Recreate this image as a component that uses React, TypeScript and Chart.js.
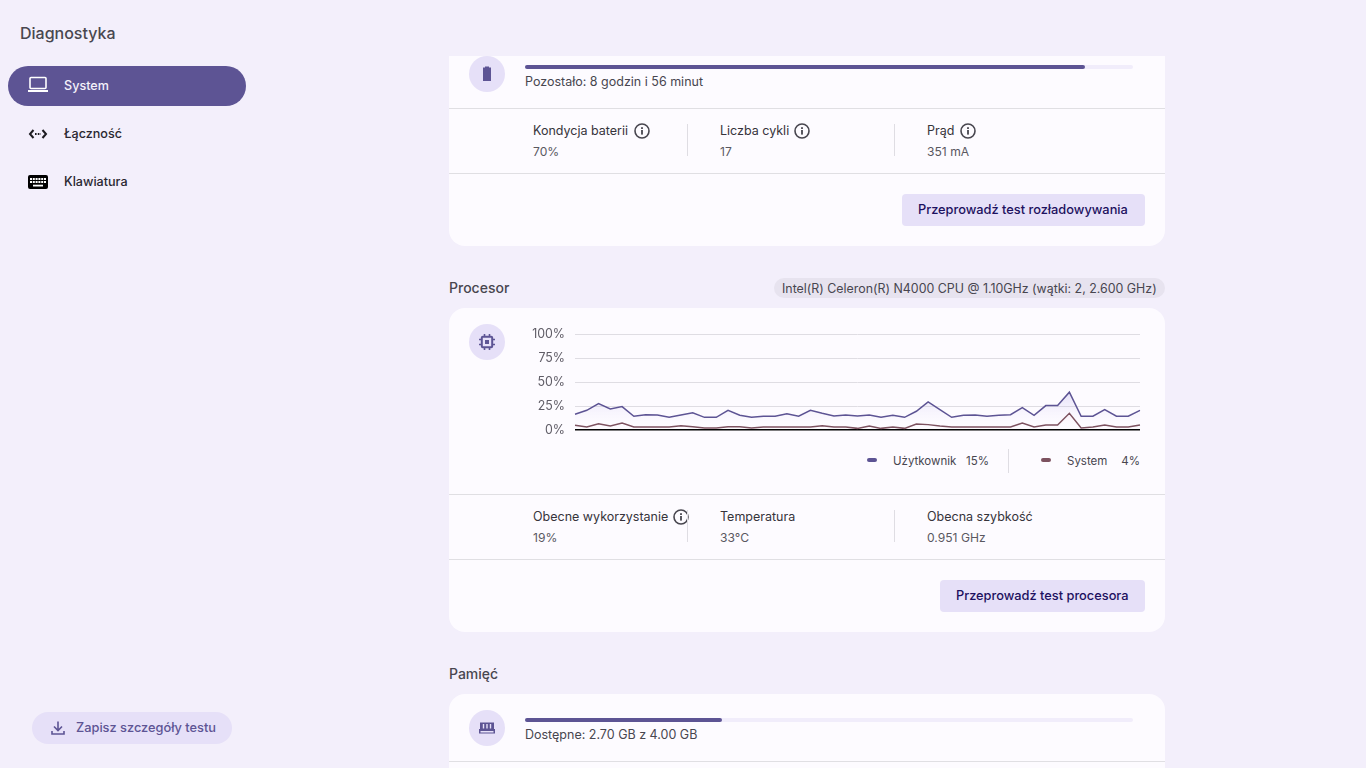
import { useEffect, useRef } from 'react';
import type { CSSProperties, ReactNode } from 'react';
import { Chart, registerables } from 'chart.js';

Chart.register(...registerables);

const UI_FONT = 'Inter, Roboto, sans-serif';

// CPU history, percent (left = oldest)
const userLoad = [
  16.4, 20.5, 27.5, 22, 24.4, 14.3, 16, 15.7, 13.2, 15.7, 18, 13.2, 13.2, 20.5, 15.3, 13.2, 14.3,
  14.3, 17, 14.3, 20.5, 17.4, 14.6, 15.7, 14.6, 15.7, 13.2, 15.3, 13.2, 19.5, 29.3, 21.3, 13.2,
  15.3, 15.7, 14.3, 15.3, 16, 23.3, 15.3, 25.4, 25.4, 39.4, 14.3, 14.3, 21.3, 14.3, 14.3, 20.5,
];
const systemLoad = [
  4.9, 3.1, 6.6, 4.2, 7.3, 3.1, 3.1, 3.1, 3.1, 4.5, 3.5, 2.1, 2.1, 3.5, 3.5, 2.1, 3.1, 3.1, 3.1,
  3.1, 3.1, 4.5, 3.1, 3.1, 1.7, 4.2, 1.7, 3.1, 1.7, 6.3, 5.6, 4.2, 3.1, 3.1, 3.1, 3.1, 3.1, 3.1,
  7.3, 3.1, 5.2, 5.2, 17.4, 2.1, 3.1, 5.2, 3.1, 3.1, 5.2,
];
const sampleLabels = userLoad.map((_, i) => String(i));
const yTicks = [0, 25, 50, 75, 100];
const legendLabels = ['Użytkownik', 'System'];
const legendValues = ['15%', '4%'];

const USER_COLOR = '#5d5494';
const SYSTEM_COLOR = '#7d5260';

const CpuChart = () => {
  const canvasRef = useRef<HTMLCanvasElement | null>(null);

  useEffect(() => {
    if (!canvasRef.current) return;

    const fade = (chart: Chart, top: string) => {
      const area = chart.chartArea;
      if (!area) return 'transparent';
      const g = chart.ctx.createLinearGradient(0, chart.scales.y.getPixelForValue(40), 0, area.bottom);
      g.addColorStop(0, top);
      g.addColorStop(1, 'rgba(255,255,255,0)');
      return g;
    };

    const chart = new Chart(canvasRef.current, {
      type: 'line',
      data: {
        labels: sampleLabels,
        datasets: [
          {
            label: legendLabels[1],
            data: systemLoad,
            borderColor: SYSTEM_COLOR,
            borderWidth: 1.5,
            pointRadius: 0,
            tension: 0,
            fill: 'origin',
            backgroundColor: (c: any) => fade(c.chart, 'rgba(255,160,180,0.4)'),
          },
          {
            label: legendLabels[0],
            data: userLoad,
            borderColor: USER_COLOR,
            borderWidth: 1.5,
            pointRadius: 0,
            tension: 0,
            fill: 'origin',
            backgroundColor: (c: any) => fade(c.chart, 'rgba(130,115,220,0.2)'),
          },
        ],
      },
      options: {
        animation: false,
        responsive: false,
        events: [],
        layout: { padding: { top: 14, bottom: 10, right: 10, left: 0 } },
        plugins: { legend: { display: false }, tooltip: { enabled: false } },
        scales: {
          x: { display: false, offset: false },
          y: {
            min: 0,
            max: 100,
            afterFit: (scale: any) => {
              scale.width = 55;
              // keep the plot area where the layout padding puts it
              scale.paddingTop = 0;
              scale.paddingBottom = 0;
            },
            afterBuildTicks: (scale: any) => {
              scale.ticks = yTicks.map(value => ({ value }));
            },
            border: { display: false },
            grid: {
              drawTicks: false,
              lineWidth: (c: any) => (c.tick?.value === 0 ? 1.5 : 1),
              color: (c: any) => (c.tick?.value === 0 ? '#000000' : '#dfdde3'),
            },
            ticks: {
              padding: 10,
              color: '#5f5c66',
              font: { family: UI_FONT, size: 12.4 },
              callback: (v: any) => `${v}%`,
            },
          },
        },
      },
    });

    return () => chart.destroy();
  }, []);

  return (
    <canvas
      ref={canvasRef}
      width={630}
      height={120}
      style={{ position: 'absolute', left: 520, top: 320, width: 630, height: 120 }}
    />
  );
};

// text placed by its left edge (or right edge) and vertical centre
const Txt = ({ x, y, size = 12.5, weight = 400, color = '#48464f', right, children }: {
  x?: number; y: number; size?: number; weight?: number; color?: string; right?: number; children: ReactNode;
}) => {
  const style: CSSProperties = {
    position: 'absolute',
    top: y - 12,
    height: 24,
    lineHeight: '24px',
    fontSize: size,
    fontWeight: weight,
    color,
    whiteSpace: 'nowrap',
  };
  if (x !== undefined) style.left = x;
  if (right !== undefined) style.right = 1366 - right;
  return <div style={style}>{children}</div>;
};

const Box = ({ x, y, w, h, bg, r = 0 }: { x: number; y: number; w: number; h: number; bg: string; r?: number | string }) => (
  <div style={{ position: 'absolute', left: x, top: y, width: w, height: h, background: bg, borderRadius: r }} />
);

const Info = ({ x, y }: { x: number; y: number }) => (
  <svg width={16} height={16} viewBox="0 0 16 16" style={{ position: 'absolute', left: x - 8, top: y - 8 }}>
    <circle cx={8} cy={8} r={7} fill="none" stroke="#48464f" strokeWidth={1.6} />
    <rect x={7.1} y={7} width={1.8} height={4.6} fill="#48464f" />
    <rect x={7.1} y={4.2} width={1.8} height={1.8} fill="#48464f" />
  </svg>
);

const IconBadge = ({ y, children }: { y: number; children: ReactNode }) => (
  <>
    <Box x={469} y={y - 18} w={36} h={36} bg="#e6e0f8" r="50%" />
    <svg width={20} height={20} viewBox="0 0 20 20" style={{ position: 'absolute', left: 477, top: y - 10 }}>
      {children}
    </svg>
  </>
);

const Button = ({ x, y, w, label }: { x: number; y: number; w: number; label: string }) => (
  <>
    <Box x={x} y={y} w={w} h={32} bg="#e6e0f8" r={4} />
    <Txt x={x + 16} y={y + 15.5} size={12.8} weight={500} color="#1d1160">{label}</Txt>
  </>
);

const Stat = ({ x, y, label, value }: { x: number; y: number; label: string; value: string }) => (
  <>
    <Txt x={x} y={y + 1} color="#36343b">{label}</Txt>
    <Txt x={x} y={y + 22} size={12.1} color="#5a5861">{value}</Txt>
  </>
);

export default function App() {
  return (
    <div style={{ position: 'fixed', left: 0, top: 0, width: 1366, height: 768, overflow: 'hidden', background: '#f3effb', fontFamily: UI_FONT }}>
      {/* sidebar */}
      <Txt x={20} y={33} size={16} weight={500} color="#49474f">Diagnostyka</Txt>
      <Box x={8} y={66} w={238} h={40} bg="#5d5494" r={20} />
      <svg width={22} height={18} viewBox="0 0 22 18" style={{ position: 'absolute', left: 27, top: 76 }}>
        <rect x={3} y={1.5} width={16} height={11} rx={1} fill="none" stroke="#fff" strokeWidth={1.6} />
        <rect x={1} y={14} width={20} height={2} fill="#fff" />
      </svg>
      <Txt x={64} y={86} size={12.6} weight={500} color="#f4f1fb">System</Txt>
      <svg width={20} height={12} viewBox="0 0 20 12" style={{ position: 'absolute', left: 28, top: 128 }}>
        <path d="M5.5 2 L2 6 L5.5 10 M14.5 2 L18 6 L14.5 10" fill="none" stroke="#1c1b20" strokeWidth={2} />
        <path d="M7 6 H13" stroke="#1c1b20" strokeWidth={1.8} strokeDasharray="1.6 1.2" />
      </svg>
      <Txt x={64} y={134} size={12.6} weight={500} color="#2a2830">Łączność</Txt>
      <svg width={22} height={16} viewBox="0 0 22 16" style={{ position: 'absolute', left: 27, top: 174 }}>
        <rect x={1} y={1} width={20} height={14} rx={2} fill="#000" />
        <path d="M3 5 H19 M3 8 H19" stroke="#fff" strokeWidth={2.1} strokeDasharray="2 0.8" />
        <path d="M6 11.6 H16" stroke="#fff" strokeWidth={1.8} />
      </svg>
      <Txt x={64} y={182} size={12.6} weight={500} color="#2a2830">Klawiatura</Txt>
      <Box x={32} y={712} w={200} h={32} bg="#e6e0f8" r={16} />
      <svg width={16} height={16} viewBox="0 0 16 16" style={{ position: 'absolute', left: 50, top: 720 }}>
        <path d="M8 1.5 V10 M4 6.5 L8 10.5 L12 6.5 M2 11 V14 H14 V11" fill="none" stroke="#5d5494" strokeWidth={1.6} />
      </svg>
      <Txt x={76} y={728} size={12.8} weight={500} color="#5d5494">Zapisz szczegóły testu</Txt>

      {/* battery card */}
      <div style={{ position: 'absolute', left: 449, top: 56, width: 716, height: 190, background: '#fdfbff', borderRadius: '0 0 16px 16px' }} />
      <IconBadge y={74}>
        <path d="M8 3.5 V2.5 H12 V3.5 H14 V17 H6 V3.5 Z" fill="#5d5494" />
      </IconBadge>
      <Box x={525} y={65} w={608} h={4} bg="#f1edfb" r={2} />
      <Box x={525} y={65} w={560} h={4} bg="#5d5494" r={2} />
      <Txt x={525} y={82}>Pozostało: 8 godzin i 56 minut</Txt>
      <Box x={449} y={108} w={716} h={1} bg="#e0dfe3" />
      <Stat x={533} y={130} label="Kondycja baterii" value="70%" />
      <Info x={642} y={131} />
      <Box x={687} y={124} w={1} h={32} bg="#dfdde3" />
      <Stat x={720} y={130} label="Liczba cykli" value="17" />
      <Info x={802} y={131} />
      <Box x={894} y={124} w={1} h={32} bg="#dfdde3" />
      <Stat x={927} y={130} label="Prąd" value="351 mA" />
      <Info x={968} y={131} />
      <Box x={449} y={173} w={716} h={1} bg="#e0dfe3" />
      <Button x={902} y={194} w={243} label="Przeprowadź test rozładowywania" />

      {/* processor card */}
      <Txt x={449} y={288} size={14} weight={500}>Procesor</Txt>
      <Box x={774} y={278} w={391} h={20} bg="#e7e3ef" r={10} />
      <Txt x={782} y={289} size={12.4}>Intel(R) Celeron(R) N4000 CPU @ 1.10GHz (wątki: 2, 2.600 GHz)</Txt>
      <Box x={449} y={308} w={716} h={324} bg="#fdfbff" r={16} />
      <IconBadge y={342}>
        <rect x={4.8} y={4.8} width={10.4} height={10.4} rx={1} fill="none" stroke="#5d5494" strokeWidth={2} />
        <rect x={8} y={8} width={4} height={4} fill="#5d5494" />
        <path d="M7.5 2 V5 M12.5 2 V5 M7.5 15 V18 M12.5 15 V18 M2 7.5 H5 M2 12.5 H5 M15 7.5 H18 M15 12.5 H18" stroke="#5d5494" strokeWidth={1.6} />
      </IconBadge>
      <CpuChart />
      <Box x={867} y={458} w={10} h={4} bg={USER_COLOR} r={2} />
      <Txt x={893} y={461} size={11.5}>{legendLabels[0]}</Txt>
      <Txt x={966} y={461} size={11.5}>{legendValues[0]}</Txt>
      <Box x={1008} y={449} w={1} h={24} bg="#dfdde3" />
      <Box x={1041} y={458} w={10} h={4} bg={SYSTEM_COLOR} r={2} />
      <Txt x={1067} y={461} size={11.5}>{legendLabels[1]}</Txt>
      <Txt right={1140} y={461} size={11.5}>{legendValues[1]}</Txt>
      <Box x={449} y={494} w={716} h={1} bg="#e0dfe3" />
      <Stat x={533} y={516} label="Obecne wykorzystanie" value="19%" />
      <Info x={681} y={517} />
      <Box x={687} y={510} w={1} h={32} bg="#dfdde3" />
      <Stat x={720} y={516} label="Temperatura" value="33°C" />
      <Box x={894} y={510} w={1} h={32} bg="#dfdde3" />
      <Stat x={927} y={516} label="Obecna szybkość" value="0.951 GHz" />
      <Box x={449} y={559} w={716} h={1} bg="#e0dfe3" />
      <Button x={940} y={580} w={205} label="Przeprowadź test procesora" />

      {/* memory card */}
      <Txt x={449} y={674} size={14} weight={500}>Pamięć</Txt>
      <div style={{ position: 'absolute', left: 449, top: 694, width: 716, height: 74, background: '#fdfbff', borderRadius: '16px 16px 0 0' }} />
      <IconBadge y={728}>
        <path d="M3 4.5 H17 V11 H18 V15.5 H2 V11 H3 Z" fill="#5d5494" />
        <path d="M6.5 6 V10.5 M10 6 V10.5 M13.5 6 V10.5 M3.5 13.8 H16.5" stroke="#e6e0f8" strokeWidth={1.4} />
      </IconBadge>
      <Box x={525} y={718} w={608} h={4} bg="#f1edfb" r={2} />
      <Box x={525} y={718} w={197} h={4} bg="#5d5494" r={2} />
      <Txt x={525} y={735}>Dostępne: 2.70 GB z 4.00 GB</Txt>
      <Box x={449} y={761} w={716} h={1} bg="#e0dfe3" />
    </div>
  );
}
